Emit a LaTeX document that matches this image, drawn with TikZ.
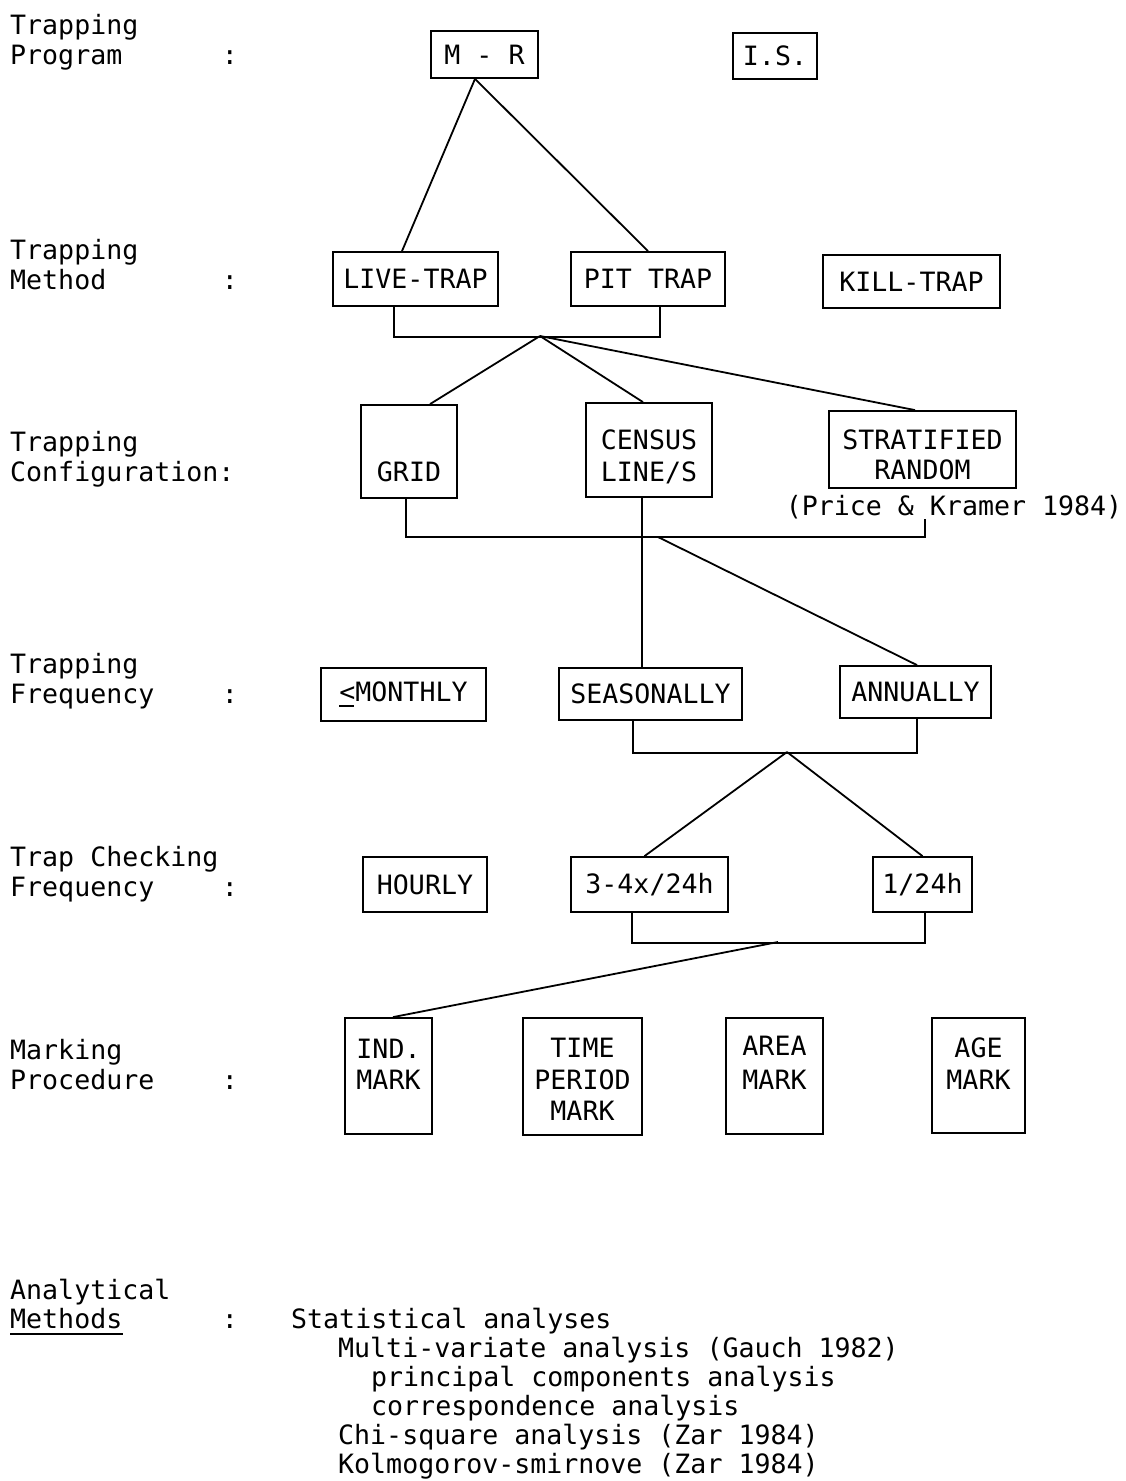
\documentclass[tikz,border=0pt]{standalone}
\usepackage{fontspec}
\setmonofont{DejaVu Sans Mono}
\begin{document}
\begin{tikzpicture}[x=1pt,y=-1pt,
  txt/.style={font=\ttfamily\fontsize{26.6}{31}\selectfont, inner sep=0pt},
  lbl/.style={txt, anchor=base west},
  colon/.style={txt, anchor=base},
  boxtext/.style={txt, anchor=base},
  box/.style={draw, line width=1.8pt, txt, align=center},
  conn/.style={line width=1.8pt},
]
\useasboundingbox (0,0) rectangle (1126,1481);
\fill[white] (0,0) rectangle (1126,1481);

% ---- row labels ----
\node[lbl] (tp1) at (10,34) {Trapping};
\node[lbl] (tp2) at (10,64) {Program};
\node[colon] (tpc) at (230,64) {:};
\node[lbl] (tm1) at (10,259) {Trapping};
\node[lbl] (tm2) at (10,289) {Method};
\node[colon] (tmc) at (230,289) {:};
\node[lbl] (tc1) at (10,451) {Trapping};
\node[lbl] (tc2) at (10,481) {Configuration:};
\node[lbl] (tf1) at (10,673) {Trapping};
\node[lbl] (tf2) at (10,703) {Frequency};
\node[colon] (tfc) at (230,703) {:};
\node[lbl] (cf1) at (10,866) {Trap Checking};
\node[lbl] (cf2) at (10,896) {Frequency};
\node[colon] (cfc) at (230,896) {:};
\node[lbl] (mp1) at (10,1059) {Marking};
\node[lbl] (mp2) at (10,1089) {Procedure};
\node[colon] (mpc) at (230,1089) {:};
\node[lbl] (am1) at (10,1299) {Analytical};
\node[lbl] (am2) at (10,1328) {Methods};
\node[colon] (amc) at (230,1328) {:};
\draw[conn] ([yshift=-6pt]am2.base west) -- ([yshift=-6pt]am2.base east);

% ---- trapping program ----
\node[box, minimum width=107, minimum height=47] (mr) at (484.5,54.5) {M - R};
\node[box, minimum width=84, minimum height=46] (is) at (775,56) {I.S.};

% ---- trapping method ----
\node[box, minimum width=165, minimum height=54] (live) at (415.5,279) {LIVE-TRAP};
\node[box, minimum width=154, minimum height=54] (pit) at (648,279) {PIT TRAP};
\node[box, minimum width=177, minimum height=53] (kill) at (911.5,281.5) {KILL-TRAP};

% ---- trapping configuration ----
\node[box, minimum width=96, minimum height=93] (grid) at (409,451.5) {};
\node[boxtext] (gridt) at (409,481) {GRID};
\node[box, minimum width=126, minimum height=94] (census) at (649,450) {};
\node[boxtext] (census1) at (649,449) {CENSUS};
\node[boxtext] (census2) at (649,481) {LINE/S};
\node[box, minimum width=187, minimum height=77] (strat) at (922.5,449.5) {};
\node[boxtext] (strat1) at (922.5,449) {STRATIFIED};
\node[boxtext] (strat2) at (922.5,479) {RANDOM};
\node[boxtext] (price) at (954,515) {(Price \& Kramer 1984)};

% ---- trapping frequency ----
\node[box, minimum width=165, minimum height=53] (monthly) at (403.5,694.5)
  {\rlap{\rule[-5pt]{15pt}{1.8pt}}<MONTHLY};
\node[box, minimum width=183, minimum height=52] (seas) at (650.5,694) {SEASONALLY};
\node[box, minimum width=151, minimum height=52] (annual) at (915.5,692) {ANNUALLY};

% ---- trap checking frequency ----
\node[box, minimum width=124, minimum height=55] (hourly) at (425,884.5) {HOURLY};
\node[box, minimum width=157, minimum height=55] (three) at (649.5,884.5) {3-4x/24h};
\node[box, minimum width=99, minimum height=55] (one) at (922.5,884.5) {1/24h};

% ---- marking procedure ----
\node[box, minimum width=87, minimum height=116] (ind) at (388.5,1076) {};
\node[boxtext] (ind1) at (388.5,1058) {IND.};
\node[boxtext] (ind2) at (388.5,1089) {MARK};
\node[box, minimum width=119, minimum height=117] (time) at (582.5,1076.5) {};
\node[boxtext] (time1) at (582.5,1057) {TIME};
\node[boxtext] (time2) at (582.5,1089) {PERIOD};
\node[boxtext] (time3) at (582.5,1120) {MARK};
\node[box, minimum width=97, minimum height=116] (area) at (774.5,1076) {};
\node[boxtext] (area1) at (774.5,1055) {AREA};
\node[boxtext] (area2) at (774.5,1089) {MARK};
\node[box, minimum width=93, minimum height=115] (age) at (978.5,1075.5) {};
\node[boxtext] (age1) at (978.5,1057) {AGE};
\node[boxtext] (age2) at (978.5,1089) {MARK};

% ---- analytical methods ----
\node[lbl] (an1) at (291,1328) {Statistical analyses};
\node[lbl] (an2) at (338,1357) {Multi-variate analysis (Gauch 1982)};
\node[lbl] (an3) at (371,1386) {principal components analysis};
\node[lbl] (an4) at (371,1415) {correspondence analysis};
\node[lbl] (an5) at (338,1444) {Chi-square analysis (Zar 1984)};
\node[lbl] (an6) at (338,1473) {Kolmogorov-smirnove (Zar 1984)};

% ---- connectors ----
\coordinate (apex) at ([xshift=-9.5pt]mr.south);
\draw[conn] (apex) -- ([xshift=-13.5pt]live.north);
\draw[conn] (apex) -- (pit.north);

\draw[conn] ([xshift=-21.5pt]live.south) -- ++(0,30) -| ([xshift=12pt]pit.south);
\coordinate (j2) at (540,336);
\draw[conn] (j2) -- ([xshift=21pt]grid.north);
\draw[conn] (j2) -- ([xshift=-6pt]census.north);
\draw[conn] (j2) -- ([xshift=-7.5pt]strat.north);

\coordinate (b3l) at (406,537);
\coordinate (b3r) at (925,537);
\draw[conn] (grid.south -| b3l) -- (b3l) -- (b3r) -- (b3r |- price.south);
\draw[conn] ([xshift=-7pt]census.south) -- ([xshift=-7pt]census.south |- seas.north);
\coordinate (j3) at (658,537);
\draw[conn] (j3) -- ([xshift=1.5pt]annual.north);

\draw[conn] ([xshift=-17.5pt]seas.south) -- ++(0,32) -| ([xshift=1.5pt]annual.south);
\coordinate (j4) at (787,752);
\draw[conn] (j4) -- ([xshift=-5pt]three.north);
\draw[conn] (j4) -- (one.north);

\draw[conn] ([xshift=-17.5pt]three.south) -- ++(0,30) -| ([xshift=2.5pt]one.south);
\coordinate (j5) at (778,942);
\draw[conn] (j5) -- ([xshift=4.5pt]ind.north);
\end{tikzpicture}
\end{document}
